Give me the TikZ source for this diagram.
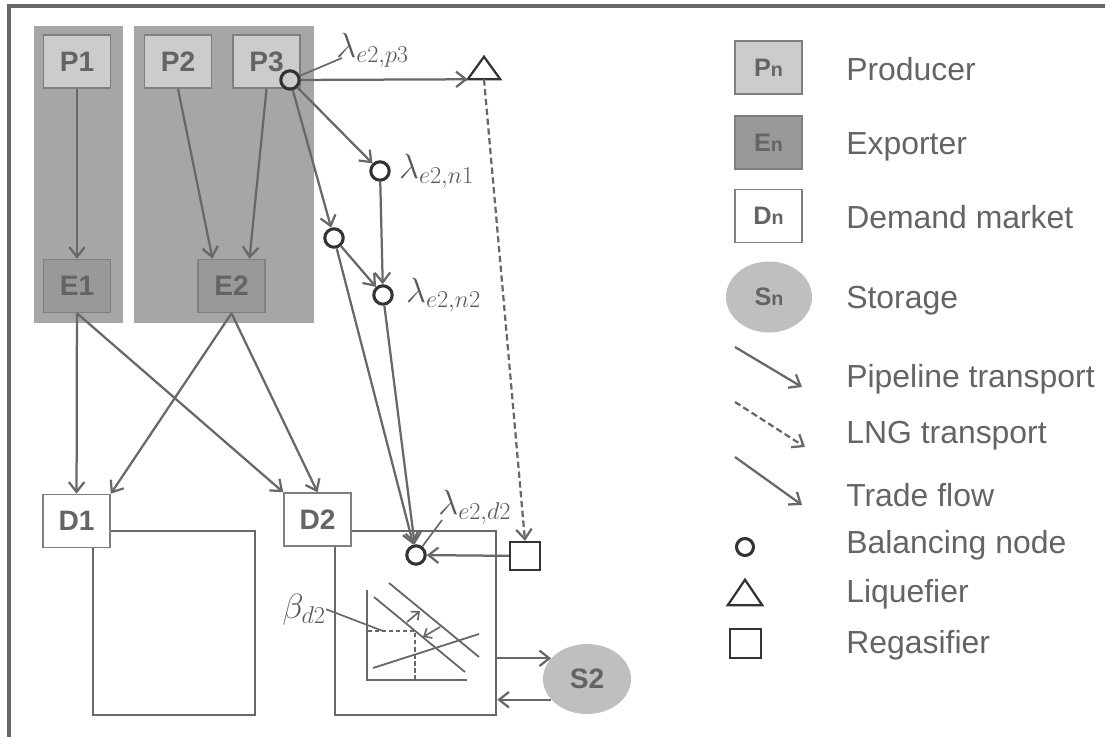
\documentclass[tikz,border=0pt]{standalone}
\usepackage{fontspec}
\setmainfont{Liberation Sans}
\usepackage{amsmath}
\usepackage{tikz}
\usetikzlibrary{arrows.meta, shapes.geometric, positioning}
\definecolor{linegray}{HTML}{686868}
\definecolor{txtgray}{HTML}{646464}
\definecolor{mathgray}{HTML}{5A5A5A}
\definecolor{boxline}{HTML}{7F7F7F}
\definecolor{nodeline}{HTML}{333333}
\definecolor{grpfill}{HTML}{A6A6A6}
\definecolor{prodfill}{HTML}{CCCCCC}
\definecolor{expfill}{HTML}{999999}
\definecolor{storfill}{HTML}{BFBFBF}
\tikzset{
    outerframe/.style={draw=linegray, line width=2.5pt},
    grp/.style={rectangle, fill=grpfill, inner sep=0pt},
    producer/.style={rectangle, draw=boxline, line width=1.1pt, fill=prodfill, minimum width=1.675cm, minimum height=1.325cm, inner sep=0pt, text=txtgray, font=\fontsize{20}{24}\selectfont\bfseries},
    exporter/.style={producer, fill=expfill},
    demand/.style={producer, fill=white},
    legbox/.style={font=\fontsize{18}{22}\selectfont\bfseries},
    market/.style={rectangle, draw=linegray, line width=1.8pt, inner sep=0pt},
    storage/.style={ellipse, fill=storfill, minimum width=2.2cm, minimum height=1.75cm, inner sep=0pt, text=txtgray, font=\fontsize{20}{24}\selectfont\bfseries},
    balance/.style={circle, draw=nodeline, line width=2.2pt, minimum size=0.46cm, inner sep=0pt},
    liqbox/.style={rectangle, minimum width=0.8cm, minimum height=0.55cm, inner sep=0pt},
    regasifier/.style={rectangle, draw=nodeline, line width=1.6pt, minimum width=0.75cm, minimum height=0.7cm, inner sep=0pt},
    shapeline/.style={draw=nodeline, line width=1.6pt, line join=miter},
    pipe/.style={draw=linegray, line width=1.6pt, -{Straight Barb[length=7pt, width=11pt]}},
    trade/.style={pipe},
    lng/.style={pipe, dash pattern=on 4.5pt off 2.5pt},
    leader/.style={draw=linegray, line width=1.2pt},
    axisline/.style={draw=linegray, line width=1.3pt},
    guide/.style={draw=linegray, line width=1.2pt, dash pattern=on 3pt off 2pt},
    demandarrow/.style={draw=linegray, line width=1.2pt, -{Straight Barb[length=4.5pt, width=8pt]}},
    mathlabel/.style={inner sep=0pt, text=mathgray, font=\fontsize{25}{29}\selectfont},
    legtext/.style={anchor=base west, inner sep=0pt, text=txtgray, font=\fontsize{22.7}{27}\selectfont}
}
\begin{document}
\begin{tikzpicture}[x=0.025cm, y=-0.025cm]
    \useasboundingbox (0,0) rectangle (1105,737);
    \draw [outerframe] (1105,6) -- (9,6) -- (9,737);

    \node (grp1) [grp, minimum width=2.225cm, minimum height=7.425cm] at (78.5,174.5) {};
    \node (grp2) [grp, minimum width=4.5cm, minimum height=7.425cm] at (224,174.5) {};

    \node (p1) [producer] at (77,61.5) {P1};
    \node (p2) [producer] at (178,61.5) {P2};
    \node (p3) [producer] at (266.5,61.5) {P3};
    \node (e1) [exporter] at (77,286) {E1};
    \node (e2) [exporter] at (231.5,286) {E2};

    \node (mkt1) [market, minimum width=4.05cm, minimum height=4.6cm] at (174,623) {};
    \node (mkt2) [market, minimum width=4.025cm, minimum height=4.6cm] at (415.5,623) {};
    \node (d1) [demand] at (76.5,521) {D1};
    \node (d2) [demand] at (317.5,519.5) {D2};
    \node (s2) [storage] at (587,679) {S2};

    \node (bp3) [balance] at (290,80) {};
    \node (bn1) [balance] at (380,171) {};
    \node (bm) [balance] at (334,238) {};
    \node (bn2) [balance] at (383,295) {};
    \node (bd2) [balance] at (416,555) {};

    \node (liq) [liqbox] at (484,68) {};
    \draw [shapeline] (liq.south west) -- (liq.south east) -- (liq.north) -- cycle;
    \node (regas) [regasifier] at (525,556) {};

    \node (lp3) [mathlabel, anchor=base west] at (336,57) {$\lambda_{e2,p3}$};
    \node (ln1) [mathlabel, right=0.2cm of bn1] {$\lambda_{e2,n1}$};
    \node (ln2) [mathlabel, right=0.3cm of bn2] {$\lambda_{e2,n2}$};
    \node (ld2) [mathlabel, anchor=base west] at (438,514) {$\lambda_{e2,d2}$};
    \node (bt2) [mathlabel, anchor=base west] at (282,618) {$\beta_{d2}$};

    \draw [pipe] (p1) -- (e1);
    \draw [pipe] (p2.south) -- ([xshift=-0.475cm]e2.north);
    \draw [pipe] (p3.south) -- ([xshift=0.45cm]e2.north);
    \draw [trade] (e1) -- (d1);
    \draw [trade] (e1.south) -- (d2.north west);
    \draw [trade] (e2.south) -- (d1.north east);
    \draw [trade] (e2.south) -- (d2.north);

    \draw [pipe] (bp3) -- (liq.south west);
    \draw [pipe] (bp3) -- (bn1);
    \draw [pipe] (bp3) -- (bm);
    \draw [pipe] (bn1) -- (bn2);
    \draw [pipe] (bm) -- (bn2);
    \draw [pipe] (bm) -- (bd2);
    \draw [pipe] (bn2) -- (bd2);
    \draw [lng] (liq.south) -- (regas.north);
    \draw [pipe] (regas) -- (bd2);
    \draw [pipe] (mkt2.east |- s2.150) -- (s2.150);
    \draw [pipe] (s2.210) -- (mkt2.east |- s2.210);

    \draw [leader] (bp3) -- ([shift={(6,1)}]lp3.base west);
    \draw [leader] (bd2) -- ([shift={(4,6)}]ld2.base west);

    \coordinate (pd2) at (383,631);
    \draw [axisline] (367,590) -- (367,680) -- (467,680);
    \draw [axisline] (374,597) -- (465,672);
    \draw [axisline] (389,583) -- (479,657);
    \draw [axisline] (373,668) -- (479,634);
    \draw [guide] (368,631) -- (415,631) -- (415,680);
    \draw [demandarrow] (407,622) -- (420,611);
    \draw [demandarrow] (440,627) -- (423,637);
    \draw [leader] (bt2.east) -- (pd2);

    \node (kp) [producer, legbox] at (768.5,67.5) {P{\fontsize{14}{14}\selectfont n}};
    \node (ke) [exporter, legbox] at (768.5,142.5) {E{\fontsize{14}{14}\selectfont n}};
    \node (kd) [demand, legbox] at (768.5,216) {D{\fontsize{14}{14}\selectfont n}};
    \node (ks) [storage, minimum width=2.15cm, minimum height=1.775cm, legbox] at (769,297) {S{\fontsize{14}{14}\selectfont n}};
    \coordinate (kpa) at (735,347);
    \coordinate (kpb) at (802,387);
    \coordinate (kla) at (735,402);
    \coordinate (klb) at (805,447);
    \coordinate (kta) at (735,457);
    \coordinate (ktb) at (802,505);
    \draw [pipe] (kpa) -- (kpb);
    \draw [lng] (kla) -- (klb);
    \draw [trade] (kta) -- (ktb);
    \node (kb) [balance, minimum size=0.425cm] at (745,547) {};
    \node (kl) [liqbox, minimum width=0.85cm, minimum height=0.625cm] at (745,592.5) {};
    \draw [shapeline] (kl.south west) -- (kl.south east) -- (kl.north) -- cycle;
    \node (kr) [regasifier, minimum width=0.775cm, minimum height=0.725cm] at (745.5,643.5) {};

    \node (tp) [legtext] at (846,80) {Producer};
    \node (te) [legtext] at (846,154) {Exporter};
    \node (td) [legtext] at (846,228) {Demand market};
    \node (ts) [legtext] at (846,308) {Storage};
    \node (tpi) [legtext] at (846,387) {Pipeline transport};
    \node (tl) [legtext] at (846,443) {LNG transport};
    \node (tt) [legtext] at (846,506) {Trade flow};
    \node (tb) [legtext] at (846,553) {Balancing node};
    \node (tq) [legtext] at (846,602) {Liquefier};
    \node (tr) [legtext] at (846,653) {Regasifier};
\end{tikzpicture}
\end{document}
